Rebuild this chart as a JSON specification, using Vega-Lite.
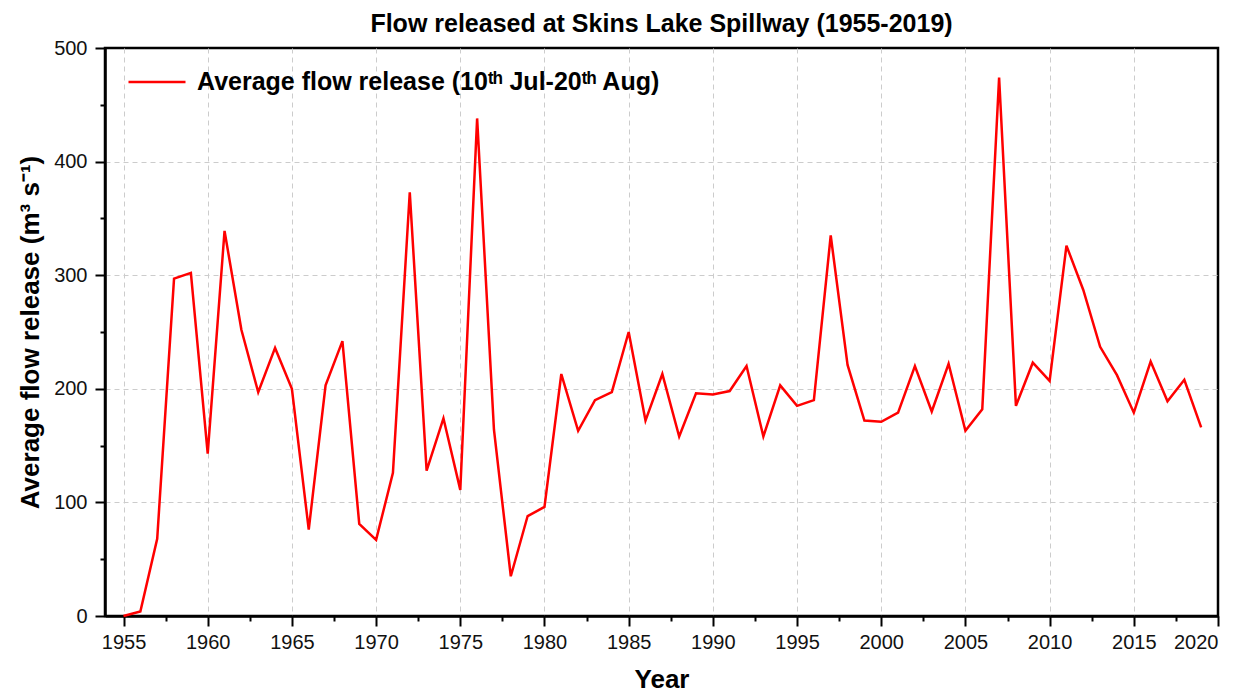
{
  "$schema": "https://vega.github.io/schema/vega-lite/v6.json",
  "width": 1113,
  "height": 568,
  "autosize": {"type": "none"},
  "padding": {"left": 105, "top": 48, "right": 34, "bottom": 80},
  "background": "white",
  "title": {
    "text": "Flow released at Skins Lake Spillway (1955-2019)",
    "font": "Liberation Sans",
    "fontSize": 25,
    "fontWeight": "bold",
    "color": "black",
    "offset": 1,
    "anchor": "middle"
  },
  "config": {
    "view": {"stroke": "black", "strokeWidth": 2.5},
    "axis": {
      "domainColor": "black",
      "domainWidth": 2.5,
      "tickColor": "black",
      "tickWidth": 2,
      "tickSize": 10,
      "labelFont": "Liberation Sans",
      "labelFontSize": 20,
      "labelColor": "#111111",
      "titleFont": "Liberation Sans",
      "titleFontSize": 26,
      "titleFontWeight": "bold",
      "titleColor": "black",
      "gridColor": "#cccccc",
      "gridDash": [5, 4],
      "gridWidth": 1
    }
  },
  "data": {
    "values": [
      {"year": 1955, "flow": 0},
      {"year": 1956, "flow": 4},
      {"year": 1957, "flow": 68},
      {"year": 1958, "flow": 297},
      {"year": 1959, "flow": 302},
      {"year": 1960, "flow": 143},
      {"year": 1961, "flow": 339},
      {"year": 1962, "flow": 252},
      {"year": 1963, "flow": 197},
      {"year": 1964, "flow": 236},
      {"year": 1965, "flow": 200},
      {"year": 1966, "flow": 76},
      {"year": 1967, "flow": 203},
      {"year": 1968, "flow": 242},
      {"year": 1969, "flow": 81},
      {"year": 1970, "flow": 67},
      {"year": 1971, "flow": 126},
      {"year": 1972, "flow": 373},
      {"year": 1973, "flow": 128},
      {"year": 1974, "flow": 174},
      {"year": 1975, "flow": 111},
      {"year": 1976, "flow": 438},
      {"year": 1977, "flow": 164},
      {"year": 1978, "flow": 35},
      {"year": 1979, "flow": 88},
      {"year": 1980, "flow": 96},
      {"year": 1981, "flow": 213},
      {"year": 1982, "flow": 163},
      {"year": 1983, "flow": 190},
      {"year": 1984, "flow": 197},
      {"year": 1985, "flow": 250},
      {"year": 1986, "flow": 172},
      {"year": 1987, "flow": 213},
      {"year": 1988, "flow": 158},
      {"year": 1989, "flow": 196},
      {"year": 1990, "flow": 195},
      {"year": 1991, "flow": 198},
      {"year": 1992, "flow": 220},
      {"year": 1993, "flow": 158},
      {"year": 1994, "flow": 203},
      {"year": 1995, "flow": 185},
      {"year": 1996, "flow": 190},
      {"year": 1997, "flow": 335},
      {"year": 1998, "flow": 221},
      {"year": 1999, "flow": 172},
      {"year": 2000, "flow": 171},
      {"year": 2001, "flow": 179},
      {"year": 2002, "flow": 220},
      {"year": 2003, "flow": 180},
      {"year": 2004, "flow": 222},
      {"year": 2005, "flow": 163},
      {"year": 2006, "flow": 182},
      {"year": 2007, "flow": 474},
      {"year": 2008, "flow": 185},
      {"year": 2009, "flow": 223},
      {"year": 2010, "flow": 207},
      {"year": 2011, "flow": 326},
      {"year": 2012, "flow": 287},
      {"year": 2013, "flow": 237},
      {"year": 2014, "flow": 212},
      {"year": 2015, "flow": 179},
      {"year": 2016, "flow": 224},
      {"year": 2017, "flow": 189},
      {"year": 2018, "flow": 208},
      {"year": 2019, "flow": 166}
    ]
  },
  "layer": [
    {
      "mark": {"type": "point", "opacity": 0},
      "encoding": {
        "x": {
          "field": "year",
          "type": "quantitative",
          "axis": {
            "orient": "bottom",
            "title": null,
            "values": [1955, 1960, 1965, 1970, 1975, 1980, 1985, 1990, 1995, 2000, 2005, 2010, 2015],
            "labels": false,
            "ticks": false,
            "domain": false,
            "grid": true
          }
        },
        "y": {
          "field": "flow",
          "type": "quantitative",
          "axis": {
            "orient": "left",
            "title": null,
            "values": [100, 200, 300, 400],
            "labels": false,
            "ticks": false,
            "domain": false,
            "grid": true
          }
        }
      }
    },
    {
      "mark": {"type": "point", "opacity": 0},
      "encoding": {
        "x": {
          "field": "year",
          "type": "quantitative",
          "axis": {
            "orient": "bottom",
            "title": null,
            "values": [1957.5, 1962.5, 1967.5, 1972.5, 1977.5, 1982.5, 1987.5, 1992.5, 1997.5, 2002.5, 2007.5, 2012.5, 2017.5],
            "labels": false,
            "domain": false,
            "grid": false,
            "tickSize": 5
          }
        },
        "y": {
          "field": "flow",
          "type": "quantitative",
          "axis": {
            "orient": "left",
            "title": null,
            "values": [50, 150, 250, 350, 450],
            "labels": false,
            "domain": false,
            "grid": false,
            "tickSize": 5
          }
        }
      }
    },
    {
      "mark": {"type": "line", "strokeWidth": 2.5},
      "encoding": {
        "x": {
          "field": "year",
          "type": "quantitative",
          "scale": {"domain": [1953.9, 2020], "nice": false, "zero": false},
          "axis": {
            "orient": "bottom",
            "title": "Year",
            "values": [1955, 1960, 1965, 1970, 1975, 1980, 1985, 1990, 1995, 2000, 2005, 2010, 2015, 2020],
            "format": "d",
            "labelPadding": 6,
            "titlePadding": 14,
            "grid": false
          }
        },
        "y": {
          "field": "flow",
          "type": "quantitative",
          "scale": {"domain": [0, 500], "nice": false},
          "axis": {
            "orient": "left",
            "title": "Average flow release (m³ s⁻¹)",
            "values": [0, 100, 200, 300, 400, 500],
            "labelPadding": 8,
            "titlePadding": 10,
            "grid": false
          }
        },
        "color": {
          "datum": "Average flow release (10ᵗʰ Jul-20ᵗʰ Aug)",
          "type": "nominal",
          "scale": {"range": ["#ff0000"]},
          "legend": {
            "title": null,
            "orient": "none",
            "legendX": 22,
            "legendY": 4,
            "symbolType": "stroke",
            "symbolSize": 3249,
            "symbolStrokeWidth": 2.5,
            "labelFont": "Liberation Sans",
            "labelFontSize": 25,
            "labelFontWeight": "bold",
            "labelColor": "black",
            "labelOffset": 10,
            "labelLimit": 900,
            "padding": 0
          }
        }
      }
    }
  ],
  "resolve": {"axis": {"x": "independent", "y": "independent"}}
}
